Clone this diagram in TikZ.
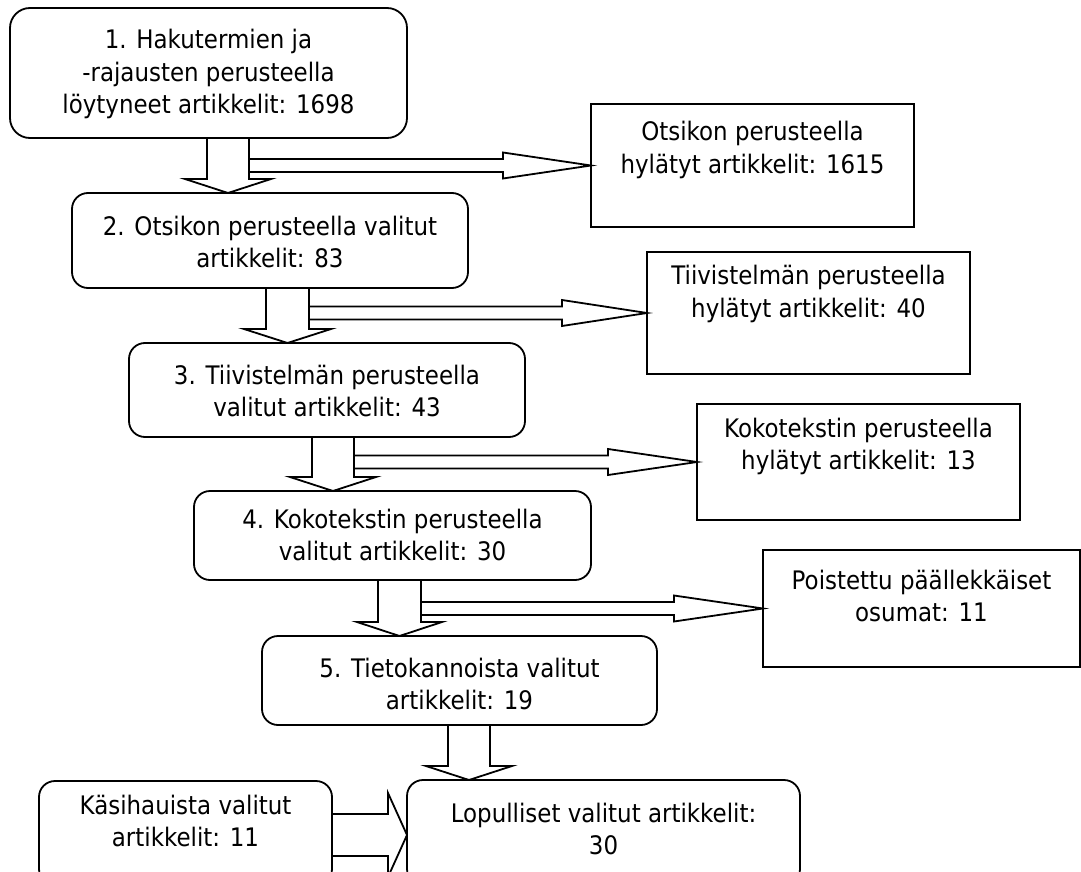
\documentclass[tikz,border=0pt]{standalone}
\usepackage{fontspec}
\setmainfont{DejaVu Sans}[FakeStretch=0.9]
\usetikzlibrary{calc}
\tikzset{
  rbox/.style={draw, line width=1.8pt, rounded corners=16pt, inner sep=0pt, outer sep=0pt},
  sbox/.style={draw, line width=1.8pt, inner sep=0pt, outer sep=0pt},
  txt/.style={align=center, inner sep=0pt, font=\fontsize{25.5}{32.5}\selectfont},
  arr/.style={draw, line width=1.8pt, line join=miter},
}
% down block arrow: src, tgt, L, R, head-left, centre, head-right
\newcommand\blockdown[7]{%
  \draw[arr] (#3,0 |- #1.south) -- ($(#3,0 |- #2.north)+(0,-14)$)
    -- ($(#5,0 |- #2.north)+(0,-14)$) -- (#6,0 |- #2.north)
    -- ($(#7,0 |- #2.north)+(0,-14)$) -- ($(#4,0 |- #2.north)+(0,-14)$)
    -- (#4,0 |- #1.south);}
% right block arrow: start x, head x, tgt
\newcommand\blockright[3]{%
  \draw[arr] ($(#1,0 |- #3.west)+(0,-6.5)$) -- ($(#2,0 |- #3.west)+(0,-6.5)$)
    -- ($(#2,0 |- #3.west)+(0,-13)$) -- (#3.west)
    -- ($(#2,0 |- #3.west)+(0,13)$) -- ($(#2,0 |- #3.west)+(0,6.5)$)
    -- ($(#1,0 |- #3.west)+(0,6.5)$);}
\begin{document}
\begin{tikzpicture}[x=1pt, y=-1pt]
\useasboundingbox (0,0) rectangle (1081,872);
\clip (0,0) rectangle (1081,872);
% boxes
\node[rbox, rounded corners=20pt, minimum width=397pt, minimum height=130pt] (b1) at (208.5,73) {};
\node[sbox, minimum width=323pt, minimum height=123pt] (r1) at (752.5,165.5) {};
\node[rbox, minimum width=396pt, minimum height=95pt] (b2) at (270,240.5) {};
\node[sbox, minimum width=323pt, minimum height=122pt] (r2) at (808.5,313) {};
\node[rbox, minimum width=396pt, minimum height=94pt] (b3) at (327,390) {};
\node[sbox, minimum width=323pt, minimum height=116pt] (r3) at (858.5,462) {};
\node[rbox, minimum width=397pt, minimum height=89pt] (b4) at (392.5,535.5) {};
\node[sbox, minimum width=317pt, minimum height=117pt] (r4) at (921.5,608.5) {};
\node[rbox, minimum width=395pt, minimum height=89pt] (b5) at (459.5,680.5) {};
\node[rbox, minimum width=393pt, minimum height=105pt] (b6) at (603.5,832.5) {};
\node[rbox, minimum width=293pt, minimum height=104pt] (b7) at (185.5,833) {};
% texts
\node[txt] (t1) at (208.5,74) {1. Hakutermien ja\\-rajausten perusteella\\löytyneet artikkelit: 1698};
\node[txt] (t2) at (752.5,150) {Otsikon perusteella\\hylätyt artikkelit: 1615};
\node[txt] (t3) at (270,242) {2. Otsikon perusteella valitut\\artikkelit: 83};
\node[txt] (t4) at (808.5,294) {Tiivistelmän perusteella\\hylätyt artikkelit: 40};
\node[txt] (t5) at (327,391) {3. Tiivistelmän perusteella\\valitut artikkelit: 43};
\node[txt] (t6) at (858.5,446.5) {Kokotekstin perusteella\\hylätyt artikkelit: 13};
\node[txt] (t7) at (392.5,535) {4. Kokotekstin perusteella\\valitut artikkelit: 30};
\node[txt] (t8) at (921.5,596) {Poistettu päällekkäiset\\osumat: 11};
\node[txt] (t9) at (459.5,684) {5. Tietokannoista valitut\\artikkelit: 19};
\node[txt] (t10) at (603.5,829) {Lopulliset valitut artikkelit:\\30};
\node[txt] (t11) at (185.5,821) {Käsihauista valitut\\artikkelit: 11};
% block arrows
\blockdown{b1}{b2}{207}{249}{185}{228}{271}
\blockright{249}{503}{r1}
\blockdown{b2}{b3}{266}{309}{244}{287.5}{331}
\blockright{309}{562}{r2}
\blockdown{b3}{b4}{312}{354}{290}{333}{376}
\blockright{354}{608}{r3}
\blockdown{b4}{b5}{378}{421}{357}{399.5}{442}
\blockright{421}{674}{r4}
\blockdown{b5}{b6}{448}{490}{426}{469}{512}
\draw[arr] (b7.east |- 0,814) -- (388,814) -- (388,793) -- (b6.west |- 0,835)
  -- (388,877) -- (388,856) -- (b7.east |- 0,856);
\end{tikzpicture}
\end{document}
